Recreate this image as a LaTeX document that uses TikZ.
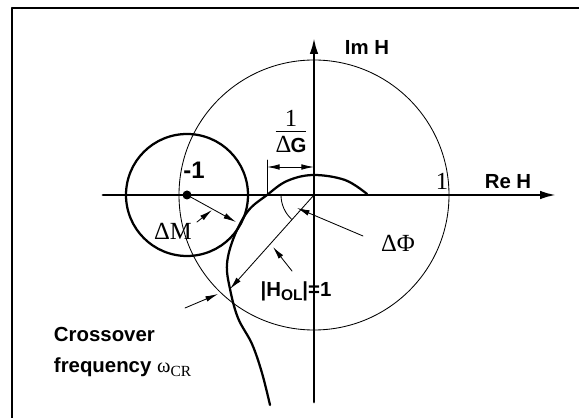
\documentclass[tikz,border=0pt]{standalone}
\usepackage{fontspec}
\setmainfont{Liberation Sans}
\newfontfamily\seriffont{Liberation Serif}
\usetikzlibrary{arrows.meta}

\begin{document}
\begin{tikzpicture}[x=0.025cm, y=-0.025cm, line cap=round, line join=round]

% --- Global TikZ Styles ---
\tikzset{
    axis/.style={
        -{Latex[length=12pt,width=6pt]},
        line width=2pt,
        draw=black
    },
    nyquist/.style={
        draw=black,
        line width=1.6pt
    },
    unitcircle/.style={
        draw=black,
        line width=0.6pt
    },
    marginline/.style={
        draw=black,
        line width=1.6pt
    },
    dimline/.style={
        draw=black,
        line width=0.6pt
    },
    pointer/.style={
        -{Latex[length=9pt,width=4pt]},
        draw=black,
        line width=0.6pt
    },
    sanslabel/.style={
        font=\fontsize{14.5}{17}\selectfont\bfseries
    },
    seriflabel/.style={
        font=\fontsize{17.5}{20}\selectfont\seriffont
    }
}

\useasboundingbox (0,0) rectangle (579,418);

% --- Frame ---
\draw[line width=1.6pt] (12,418) -- (12,8);
\draw[line width=0.8pt] (12,8) -- (579,8);

% --- Points ---
\coordinate (O) at (314,195);
\coordinate (minusone) at (187,195);
\coordinate (cross) at (230,289);
\coordinate (crosstip) at (218,294);
\coordinate (dmtip) at (236,222);
\coordinate (gtick) at (267,195);

% --- Unit circle and stability margin circle ---
\draw[unitcircle] (O) circle (135);
\draw[marginline] (minusone) circle (61);
\fill (minusone) circle (4.5);

% --- Axes ---
\draw[axis] (103,195) -- (557,195);
\draw[axis] (314,402) -- (314,37);
\node[sanslabel] (imlabel) at (367,47) {Im H};
\node[sanslabel] (relabel) at (508,182) {Re H};
\node[seriflabel] (onelabel) at (442,181) {1};
\node[sanslabel, font=\fontsize{17}{20}\selectfont\bfseries] (minuslabel) at (194,170) {-1};

% --- Nyquist curve ---
\draw[nyquist] plot[smooth, tension=0.6] coordinates {
    (367,194) (345,180) (313,175) (287,181) (267,195) (248,211)
    (234,237) (227,264) (230,289) (238,318) (252,344) (262,373) (270,405)};

% --- Gain margin 1/DeltaG ---
\draw[dimline] (gtick) -- (267,160);
\draw[dimline, {Latex[length=9pt,width=4pt]}-{Latex[length=9pt,width=4pt]}]
    (267,167) -- (O |- 0,167);
\node[seriflabel, inner sep=0pt] (gmlabel) at (291,134)
    {\begin{tabular}{@{}c@{}}1\\[-3pt]\hline\rule{0pt}{15pt}Δ\kern-0.5pt{\normalfont\bfseries\fontsize{14.5}{17}\selectfont G}\end{tabular}};

% --- Modulus margin DeltaM ---
\draw[pointer] (minusone) -- (dmtip);
\draw[pointer] (197,222) -- (212,210);
\node[seriflabel] (dmlabel) at (173,231) {ΔM};

% --- Phase margin DeltaPhi ---
\draw[dimline] (281,195) arc[start angle=180, end angle=132, radius=33];
\draw[pointer] (O) -- (cross);
\node[seriflabel] (dphilabel) at (398,243) {ΔΦ};
\draw[pointer] (363,236) -- (297,208);

% --- |H_OL| = 1 ---
\draw[pointer] (292,271) -- (273,247);
\node[sanslabel] (hlabel) at (296,291) {|H\raisebox{-3pt}{\fontsize{11}{13}\selectfont OL}|=1};

% --- Crossover frequency ---
\draw[pointer] (185,308) -- (crosstip);
\node[sanslabel, anchor=west] (crosslabel) at (49,334) {Crossover};
\node[sanslabel, anchor=west] (freqlabel) at (49,367)
    {frequency \seriffont\mdseries ω\raisebox{-3pt}{\fontsize{11}{13}\selectfont CR}};

\end{tikzpicture}
\end{document}
